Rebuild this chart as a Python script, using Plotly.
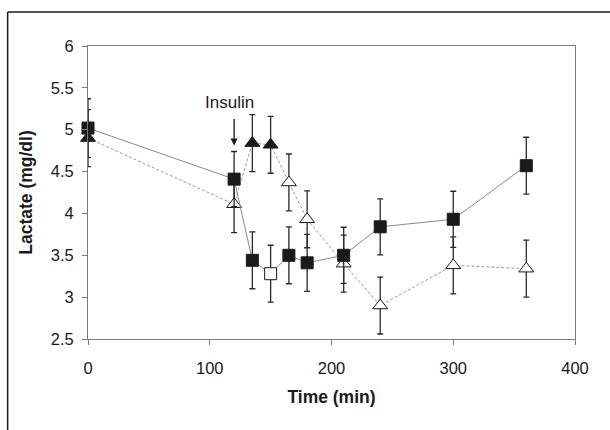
import plotly.graph_objects as go

# Sampling times (min)
time_min = [0, 120, 135, 150, 165, 180, 210, 240, 300, 360]

# Group 1 (squares, solid line): mean lactate and SE
lac_sq = [5.02, 4.41, 3.44, 3.28, 3.50, 3.41, 3.50, 3.84, 3.93, 4.57]
se_sq = [0.35, 0.33, 0.34, 0.34, 0.34, 0.34, 0.335, 0.335, 0.335, 0.34]
filled_sq = [True, True, True, False, True, True, True, True, True, True]

# Group 2 (triangles, dashed line): mean lactate and SE
lac_tri = [4.90, 4.11, 4.84, 4.82, 4.37, 3.93, 3.40, 2.90, 3.38, 3.34]
se_tri = [0.34, 0.34, 0.34, 0.34, 0.34, 0.34, 0.34, 0.34, 0.34, 0.34]
filled_tri = [True, False, True, True, False, False, False, False, False, False]

x_ticks = [0, 100, 200, 300, 400]
y_ticks = [2.5, 3, 3.5, 4, 4.5, 5, 5.5, 6]
y_tick_text = ["2.5", "3", "3.5", "4", "4.5", "5", "5.5", "6"]

FONT = "Liberation Sans, Arial, sans-serif"
INK = "#1a1a1a"


def fills(flags):
    return [INK if f else "white" for f in flags]


fig = go.Figure()

fig.add_trace(go.Scatter(
    x=time_min, y=lac_tri, mode="lines+markers", cliponaxis=False,
    line=dict(color="#9a9a9a", width=1, dash="3px,2px"),
    marker=dict(symbol="triangle-up", size=13, color=fills(filled_tri),
                line=dict(color=INK, width=1)),
    error_y=dict(type="data", array=se_tri, visible=True,
                 color="#2a2a2a", thickness=1.3, width=3),
    showlegend=False,
))

fig.add_trace(go.Scatter(
    x=time_min, y=lac_sq, mode="lines+markers", cliponaxis=False,
    line=dict(color="#8a8a8a", width=1),
    marker=dict(symbol="square", size=12, color=fills(filled_sq),
                line=dict(color=INK, width=1)),
    error_y=dict(type="data", array=se_sq, visible=True,
                 color="#2a2a2a", thickness=1.3, width=3),
    showlegend=False,
))

# Insulin injection marker
fig.add_annotation(x=116, y=5.32, text="Insulin", showarrow=False,
                   font=dict(family=FONT, size=17, color=INK))
fig.add_annotation(x=120, y=4.81, text="", showarrow=True,
                   ax=0, ay=-28, arrowhead=2, arrowsize=1.1,
                   arrowwidth=1.3, arrowcolor=INK)

# Outer frame (top and left edges)
fig.add_shape(type="line", xref="paper", yref="paper",
              x0=-0.165, x1=1.08, y0=1.116, y1=1.116,
              line=dict(color=INK, width=1.5))
fig.add_shape(type="line", xref="paper", yref="paper",
              x0=-0.165, x1=-0.165, y0=1.116, y1=-0.35,
              line=dict(color=INK, width=1.5))

fig.update_xaxes(
    range=[0, 400], tickvals=x_ticks, showgrid=False, zeroline=False,
    showline=True, linecolor="#7a7a7a", linewidth=1, mirror=True,
    ticks="outside", ticklen=5, tickcolor="#7a7a7a", ticklabelstandoff=9,
    tickfont=dict(family=FONT, size=16.5, color=INK),
    title=dict(text="<b>Time (min)</b>", standoff=14,
               font=dict(family=FONT, size=17.5, color=INK)),
)
fig.update_yaxes(
    range=[2.5, 6], tickvals=y_ticks, ticktext=y_tick_text,
    showgrid=False, zeroline=False,
    showline=True, linecolor="#7a7a7a", linewidth=1, mirror=True,
    ticks="outside", ticklen=5, tickcolor="#7a7a7a", ticklabelstandoff=5,
    tickfont=dict(family=FONT, size=16.5, color=INK),
    title=dict(text="<b>Lactate (mg/dl)</b>", standoff=13,
               font=dict(family=FONT, size=17.5, color=INK)),
)

fig.update_layout(
    width=610, height=430,
    margin=dict(l=88, r=35, t=46, b=91),
    paper_bgcolor="white", plot_bgcolor="white",
    font=dict(family=FONT, color=INK),
)

fig.write_html("out.html")
